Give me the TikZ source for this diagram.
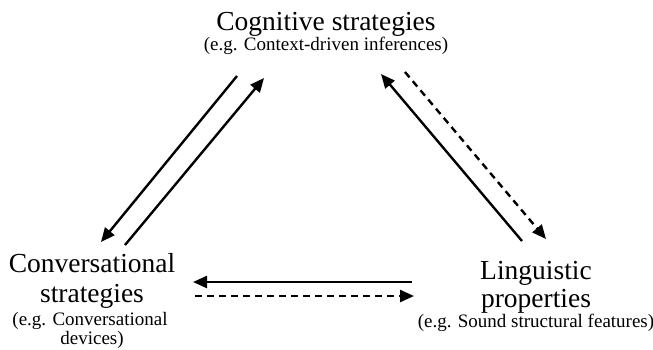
\documentclass[tikz,border=0pt]{standalone}
\usepackage{fontspec}
\setmainfont{Liberation Serif}
\usetikzlibrary{arrows.meta}
\tikzset{
  big/.style={font=\fontsize{27.5}{30}\selectfont, inner sep=0pt, anchor=base},
  small/.style={font=\fontsize{19}{21}\selectfont, inner sep=0pt, anchor=base},
  conn/.style={line width=2.4pt, -{Triangle[length=14pt,width=12pt]}},
  dconn/.style={conn, dash pattern=on 7pt off 5pt},
}
\begin{document}
\begin{tikzpicture}[x=1pt,y=-1pt]
\useasboundingbox (0,0) rectangle (653,349);
% texts
\node[big] (cog1) at (326,30) {Cognitive strategies};
\node[small] (cog2) at (326,50) {(e.g. Context-driven inferences)};
\node[big] (con1) at (92,272) {Conversational};
\node[big] (con2) at (92,302) {strategies};
\node[small] (con3) at (90,325) {(e.g. Conversational};
\node[small] (con4) at (92,344) {devices)};
\node[big] (lin1) at (536,279) {Linguistic};
\node[big] (lin2) at (536,307) {properties};
\node[small] (lin3) at (536,327) {(e.g. Sound structural features)};
% arrow endpoints
\coordinate (a1s) at (237,76);
\coordinate (a1e) at (101,242);
\coordinate (a2s) at (125,245);
\coordinate (a2e) at (264,78);
\coordinate (b1s) at (522,241);
\coordinate (b1e) at (381,74);
\coordinate (b2s) at (405,72);
\coordinate (b2e) at (546,239);
\coordinate (c1s) at (412,282);
\coordinate (c1e) at (193,282);
\coordinate (c2s) at (195,296);
\coordinate (c2e) at (414,296);
\draw[conn] (a1s) -- (a1e);
\draw[conn] (a2s) -- (a2e);
\draw[conn] (b1s) -- (b1e);
\draw[dconn] (b2s) -- (b2e);
\draw[conn] (c1s) -- (c1e);
\draw[dconn] (c2s) -- (c2e);
\end{tikzpicture}
\end{document}
